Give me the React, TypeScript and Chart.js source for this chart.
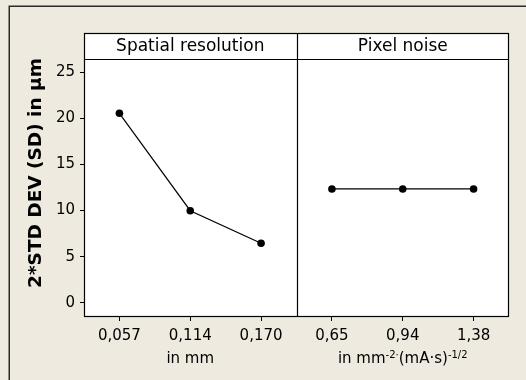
import React, { useEffect, useRef } from 'react';
import { Chart, registerables } from 'chart.js';

Chart.register(...registerables);

const categories = ['0,057', '0,114', '0,170', '0,65', '0,94', '1,38'];
const spatialValues = [20.53, 9.99, 6.46, null, null, null];
const noiseValues = [null, null, null, 12.34, 12.34, 12.34];
const yTickValues = [0, 5, 10, 15, 20, 25];
const panelTitles = ['Spatial resolution', 'Pixel noise'];
const yTitle = '2*STD DEV (SD) in µm';

const FONT = '"DejaVu Sans", Verdana, sans-serif';
const BG = '#EEEAE0';

const decorPlugin = {
  id: 'decor',
  beforeDraw(chart: any) {
    const { ctx, width, height, chartArea } = chart;
    ctx.save();
    ctx.fillStyle = BG;
    ctx.fillRect(0, 0, width, height);
    ctx.strokeStyle = '#2a2a2a';
    ctx.lineWidth = 1.5;
    ctx.strokeRect(9.25, 6.25, width + 20, height + 20);
    ctx.fillStyle = '#ffffff';
    ctx.fillRect(chartArea.left, chartArea.top, chartArea.right - chartArea.left, chartArea.bottom - chartArea.top);
    ctx.fillRect(chartArea.left, chartArea.top - 26, chartArea.right - chartArea.left, 26);
    ctx.restore();
  },
  afterDraw(chart: any) {
    const { ctx, chartArea } = chart;
    const xs = chart.scales.x;
    const l = chartArea.left, r = chartArea.right, t = chartArea.top, b = chartArea.bottom;
    const mid = (xs.getPixelForValue(2) + xs.getPixelForValue(3)) / 2;
    const headTop = t - 26;
    ctx.save();
    ctx.strokeStyle = '#000';
    ctx.lineWidth = 1.2;
    ctx.strokeRect(l + 0.5, headTop + 0.5, r - l - 1, b - headTop - 1);
    ctx.beginPath();
    ctx.moveTo(l, t + 0.5);
    ctx.lineTo(r, t + 0.5);
    ctx.moveTo(Math.round(mid) + 0.5, headTop);
    ctx.lineTo(Math.round(mid) + 0.5, b);
    ctx.stroke();

    // panel headers
    ctx.fillStyle = '#000';
    ctx.textAlign = 'center';
    ctx.textBaseline = 'middle';
    ctx.font = `17px ${FONT}`;
    ctx.fillText(panelTitles[0], (l + mid) / 2, headTop + 14);
    ctx.fillText(panelTitles[1], (mid + r) / 2, headTop + 14);

    // x titles
    const ty = 359;
    ctx.font = `15px ${FONT}`;
    ctx.fillText('in mm', (l + mid) / 2, ty);
    const segs: [string, boolean][] = [
      ['in mm', false],
      ['-2', true],
      ['·', true],
      ['(mA·s)', false],
      ['-1/2', true],
    ];
    const normal = `15px ${FONT}`;
    const small = `10px ${FONT}`;
    let total = 0;
    for (const [s, sup] of segs) {
      ctx.font = sup ? small : normal;
      total += ctx.measureText(s).width;
    }
    let x = (mid + r) / 2 - total / 2;
    ctx.textAlign = 'left';
    for (const [s, sup] of segs) {
      ctx.font = sup ? small : normal;
      ctx.fillText(s, x, sup ? ty - 4 : ty);
      x += ctx.measureText(s).width;
    }

    // y title
    ctx.translate(36.5, 173);
    ctx.rotate(-Math.PI / 2);
    ctx.textAlign = 'center';
    ctx.font = `bold 18.5px ${FONT}`;
    ctx.fillText(yTitle, 0, 0);
    ctx.restore();
  },
};

export default function App() {
  const ref = useRef<HTMLCanvasElement>(null);
  useEffect(() => {
    document.body.style.margin = '0';
    const canvas = ref.current!;
    const ds = (data: (number | null)[]) => ({
      data,
      borderColor: '#000',
      backgroundColor: '#000',
      borderWidth: 1.2,
      pointRadius: 3.8,
      pointBackgroundColor: '#000',
      pointBorderWidth: 0,
      spanGaps: false,
    });
    const chart = new Chart(canvas, {
      type: 'line',
      data: {
        labels: categories,
        datasets: [ds(spatialValues), ds(noiseValues)],
      },
      options: {
        responsive: false,
        animation: false,
        devicePixelRatio: 1,
        layout: { padding: { top: 59, left: 0, right: 17, bottom: 0 } },
        plugins: { legend: { display: false }, tooltip: { enabled: false }, title: { display: false } },
        scales: {
          x: {
            type: 'category',
            offset: true,
            grid: { offset: false, drawOnChartArea: false, drawTicks: true, tickLength: 4, color: '#000' },
            border: { display: false },
            ticks: { color: '#000', font: { family: FONT, size: 15 }, padding: 6, maxRotation: 0, autoSkip: false },
            afterFit(scale: any) {
              scale.height = 63;
            },
          },
          y: {
            type: 'linear',
            min: -1.52,
            max: 26.41,
            grid: { drawOnChartArea: false, drawTicks: true, tickLength: 4, color: '#000' },
            border: { display: false },
            ticks: { color: '#000', font: { family: FONT, size: 15 }, padding: 5, includeBounds: false },
            afterBuildTicks(scale: any) {
              scale.ticks = yTickValues.map((v) => ({ value: v }));
            },
            afterFit(scale: any) {
              scale.width = 84;
            },
          },
        },
      },
      plugins: [decorPlugin],
    } as any);
    return () => chart.destroy();
  }, []);
  return <canvas ref={ref} width={526} height={380} style={{ display: 'block' }} />;
}
